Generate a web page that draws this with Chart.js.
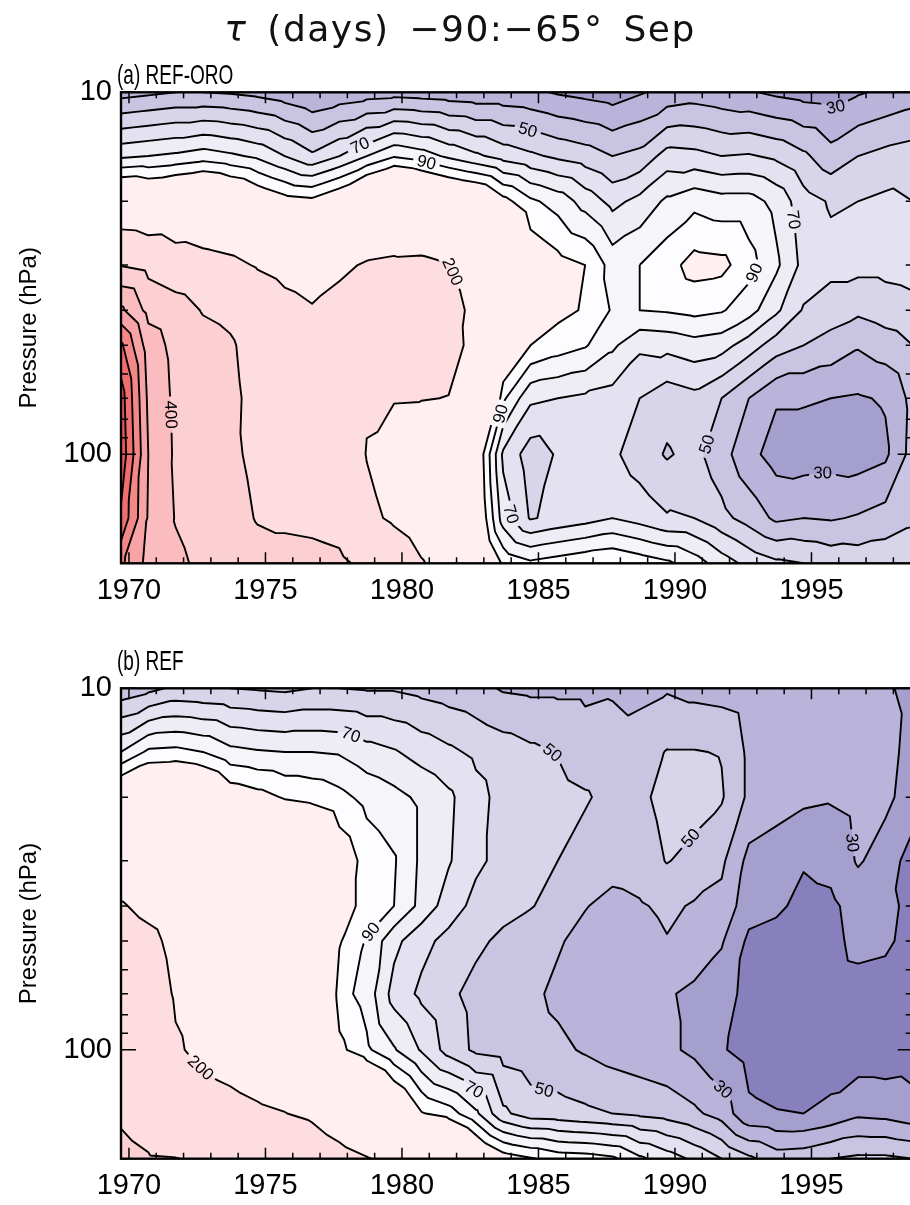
<!DOCTYPE html>
<html>
<head>
<meta charset="utf-8">
<script src="https://cdn.jsdelivr.net/npm/chart.js@4.4.1/dist/chart.umd.min.js"></script>
<style>
  html, body { margin: 0; padding: 0; background: #fff; }
  body { width: 910px; height: 1205px; overflow: hidden; position: relative; }
  canvas { position: absolute; left: 0; }
  #title { position: absolute; top: 11px; left: 0; width: 920px; text-align: center;
           font-family: 'DejaVu Sans', sans-serif; font-size: 36px; line-height: 1;
           letter-spacing: 1.5px; word-spacing: 7px; color: #111; white-space: nowrap; }
  .panel-label { position: absolute; left: 117px; font-family: 'Liberation Sans', sans-serif;
                 font-size: 28px; line-height: 1; color: #000; transform: scaleX(0.68);
                 transform-origin: left top; white-space: nowrap; }
</style>
</head>
<body>
<canvas id="panelA" width="930" height="620" style="top:0"></canvas>
<canvas id="panelB" width="930" height="585" style="top:620px"></canvas>
<div id="title"><i>τ</i> (days) −90:−65° Sep</div>
<div class="panel-label" style="top:61px">(a) REF-ORO</div>
<div class="panel-label" style="top:647px">(b) REF</div>
<script>
// September values, one column per year, plotted at mid-September
const SEP = 8.5 / 12;
const years = [1969, 1970, 1971, 1972, 1973, 1974, 1975, 1976, 1977, 1978,
               1979, 1980, 1981, 1982, 1983, 1984, 1985, 1986, 1987, 1988,
               1989, 1990, 1991, 1992, 1993, 1994, 1995, 1996, 1997, 1998];
const pressureLevels = [10, 15, 20, 30, 40, 50, 70, 100, 150, 200];

// (a) REF-ORO, tau in days, one array per pressure level
const oro10  = [36, 38, 40, 40, 39, 37, 34, 30, 33, 35, 36, 35, 34, 33, 33, 32, 29, 27, 25, 29, 33, 35, 33, 31, 28, 26, 25, 29, 32, 35];
const oro15  = [78, 80, 82, 85, 82, 78, 70, 62, 70, 80, 89, 85, 78, 72, 66, 62, 58, 55, 50, 53, 64, 63, 60, 61, 58, 52, 44, 50, 53, 55];
const oro20  = [125, 120, 125, 130, 122, 112, 105, 103, 112, 128, 140, 132, 125, 120, 104, 92, 86, 76, 67, 73, 82, 87, 84, 84, 77, 64, 59, 60, 62, 60];
const oro30  = [295, 270, 240, 225, 215, 195, 180, 170, 190, 205, 210, 212, 202, 170, 140, 110, 104, 100, 86, 90, 96, 104, 103, 94, 82, 67, 63, 63, 63, 64];
const oro40  = [520, 370, 340, 295, 280, 245, 220, 205, 218, 225, 228, 232, 222, 185, 135, 106, 103, 99, 89, 90, 91, 93, 91, 84, 72, 59, 55, 52, 55, 57];
const oro50  = [720, 450, 370, 330, 310, 265, 245, 235, 235, 230, 225, 224, 216, 187, 118, 100, 95, 91, 82, 72, 73, 76, 74, 65, 55, 50, 46, 41, 45, 50];
const oro70  = [850, 480, 380, 345, 318, 275, 260, 250, 245, 205, 203, 202, 199, 165, 92, 72, 70, 68, 66, 60, 54, 57, 50, 40, 31, 31, 30, 29, 31, 43];
const oro100 = [870, 500, 385, 350, 315, 282, 268, 255, 245, 198, 172, 158, 140, 112, 68, 55, 61, 64, 62, 55, 49, 53, 44, 33, 26, 25, 26, 25, 28, 44];
const oro150 = [780, 490, 395, 360, 330, 295, 285, 280, 270, 215, 190, 165, 142, 115, 75, 59, 63, 66, 70, 66, 61, 60, 53, 46, 38, 40, 39, 41, 44, 48];
const oro200 = [620, 470, 420, 380, 355, 330, 330, 325, 315, 280, 245, 205, 172, 125, 98, 92, 95, 98, 100, 96, 92, 85, 75, 67, 62, 60, 57, 56, 57, 58];

// (b) REF
const ref10  = [43, 47, 52, 51, 50, 49, 48, 50, 50, 49, 49, 47, 45, 43, 39, 38, 38, 38, 39, 37, 39, 37, 36, 34, 34, 34, 33, 33, 31, 28];
const ref15  = [80, 92, 93, 90, 83, 81, 80, 80, 79, 74, 71, 66, 62, 58, 55, 52, 49.5, 45, 44, 46, 50.5, 50.5, 49.5, 38, 36, 35, 35, 34, 33, 27];
const ref20  = [118, 125, 128, 122, 108, 104, 99, 97, 93, 87, 83, 78, 72, 63, 57, 54, 53, 51, 47, 48, 53, 54, 51, 38, 35, 32, 31, 33, 32, 26];
const ref30  = [160, 150, 150, 145, 140, 135, 130, 125, 108, 96, 91, 78, 71, 62, 57, 53, 50, 46, 44, 45, 50.5, 47, 42, 27, 24, 21, 23, 31, 26, 15];
const ref40  = [205, 185, 170, 160, 150, 145, 140, 135, 106, 96, 90, 77, 65, 57, 53, 50.5, 47, 40.5, 37, 39, 42, 39, 37, 24, 22, 17, 18, 24, 23, 17];
const ref50  = [230, 215, 185, 175, 160, 150, 145, 140, 101, 89, 73, 63, 57, 52, 48, 45, 41, 37, 35, 36, 39.5, 36, 31, 18, 16, 15, 17, 23, 22, 16];
const ref70  = [250, 230, 195, 185, 168, 160, 150, 145, 94, 86, 66, 58, 52, 47, 45, 42, 38, 35, 33, 32, 31, 28, 24, 17, 15, 14, 15, 16, 15, 14];
const ref100 = [270, 250, 205, 190, 180, 170, 160, 150, 103, 92, 81, 69, 56, 48, 46, 44, 42, 39, 36, 34, 32, 28, 21, 16, 14, 13, 13, 14, 14, 15];
const ref150 = [290, 270, 235, 222, 215, 207, 201, 190, 165, 140, 120, 101, 95, 82, 62, 55, 54, 52, 50, 48, 46, 42, 36, 22, 20.5, 20, 23, 28, 27, 24];
const ref200 = [320, 305, 302, 290, 298, 280, 260, 240, 220, 203, 185, 160, 140, 120, 106, 101, 96, 95, 92, 82, 75, 68, 60, 52, 45, 46, 50, 52, 52, 50];

const tauOro = [oro10, oro15, oro20, oro30, oro40, oro50, oro70, oro100, oro150, oro200];
const tauRef = [ref10, ref15, ref20, ref30, ref40, ref50, ref70, ref100, ref150, ref200];

const contourLevels = [10, 20, 30, 40, 50, 60, 70, 80, 90, 100, 200, 300, 400, 500, 600, 700, 800, 900, 1000];
const labelledLevels = [30, 50, 70, 90, 200, 400, 600, 800];
// one colour below, between and above the contour levels
const bandColors = ['#6e66b0', '#8780bd', '#a49fcc', '#bab4da', '#c9c4e2', '#d8d4ea', '#e4e1f0', '#eeedf5',
                    '#f6f5fa', '#fdfcfe', '#ffeff0', '#fddde0', '#fccfd2', '#fbbcbf', '#f8a3a6', '#f48889',
                    '#ef6e6e', '#ea5656', '#e24040', '#d83030'];
const yearTicks = [1970, 1975, 1980, 1985, 1990, 1995];
const pressureTicks = [10, 20, 30, 40, 50, 60, 70, 80, 90, 100, 200];
const pressureLabels = [10, 100];

const tickFont = { family: 'Liberation Sans', size: 29 };
const labelFont = '17px "Liberation Sans"';

function bandIndex(v) {
  let k = 0;
  while (k < contourLevels.length && v >= contourLevels[k]) k++;
  return k;
}

function hexToRgb(h) {
  return [parseInt(h.slice(1, 3), 16), parseInt(h.slice(3, 5), 16), parseInt(h.slice(5, 7), 16)];
}

// fill every pixel of the plot with the band of the linearly interpolated value
function paintBands(ctx, area, field, xs, ys) {
  const L = Math.floor(area.left), T = Math.floor(area.top);
  const W = Math.ceil(area.right) - L, H = Math.ceil(area.bottom) - T;
  const off = document.createElement('canvas');
  off.width = W; off.height = H;
  const octx = off.getContext('2d');
  const img = octx.createImageData(W, H);
  const rgb = bandColors.map(hexToRgb);
  const nx = xs.length, ny = ys.length;
  let j = 0;
  for (let py = 0; py < H; py++) {
    const Y = T + py + 0.5;
    while (j < ny - 2 && Y > ys[j + 1]) j++;
    const v = Math.min(1, Math.max(0, (Y - ys[j]) / (ys[j + 1] - ys[j])));
    let i = 0;
    for (let px = 0; px < W; px++) {
      const X = L + px + 0.5;
      while (i < nx - 2 && X > xs[i + 1]) i++;
      const u = Math.min(1, Math.max(0, (X - xs[i]) / (xs[i + 1] - xs[i])));
      const fA = field[j][i], fB = field[j][i + 1], fC = field[j + 1][i], fD = field[j + 1][i + 1];
      const f = (u + v <= 1)
        ? fA + u * (fB - fA) + v * (fC - fA)
        : fD + (1 - u) * (fC - fD) + (1 - v) * (fB - fD);
      const c = rgb[bandIndex(f)];
      const o = (py * W + px) * 4;
      img.data[o] = c[0]; img.data[o + 1] = c[1]; img.data[o + 2] = c[2]; img.data[o + 3] = 255;
    }
  }
  octx.putImageData(img, 0, 0);
  ctx.save();
  ctx.beginPath();
  ctx.rect(area.left, area.top, area.right - area.left, area.bottom - area.top);
  ctx.clip();
  ctx.drawImage(off, L, T);
  ctx.restore();
}

// marching triangles, same split as the fill, chained into polylines
function traceLevel(field, xs, ys, lev) {
  const nx = xs.length, ny = ys.length;
  const pts = new Map();
  const segs = [];
  const node = (j, i) => ({ id: j * nx + i, x: xs[i], y: ys[j], f: field[j][i] });
  const tri = (a, b, c) => {
    const P = [a, b, c];
    const keys = [];
    for (let e = 0; e < 3; e++) {
      const p = P[e], q = P[(e + 1) % 3];
      if ((p.f >= lev) !== (q.f >= lev)) {
        const t = (lev - p.f) / (q.f - p.f);
        const key = Math.min(p.id, q.id) + '_' + Math.max(p.id, q.id);
        if (!pts.has(key)) pts.set(key, { x: p.x + t * (q.x - p.x), y: p.y + t * (q.y - p.y) });
        keys.push(key);
      }
    }
    if (keys.length === 2) segs.push(keys);
  };
  for (let j = 0; j < ny - 1; j++) {
    for (let i = 0; i < nx - 1; i++) {
      const A = node(j, i), B = node(j, i + 1), C = node(j + 1, i), D = node(j + 1, i + 1);
      tri(A, B, C);
      tri(D, C, B);
    }
  }
  const adj = new Map();
  segs.forEach((s, k) => s.forEach(key => {
    if (!adj.has(key)) adj.set(key, []);
    adj.get(key).push(k);
  }));
  const used = new Array(segs.length).fill(false);
  const build = (startKey) => {
    const keys = [startKey];
    let cur = startKey;
    for (;;) {
      const next = (adj.get(cur) || []).find(k => !used[k]);
      if (next === undefined) break;
      used[next] = true;
      const s = segs[next];
      cur = s[0] === cur ? s[1] : s[0];
      keys.push(cur);
    }
    return keys.map(k => pts.get(k));
  };
  const polys = [];
  for (const [key, list] of adj) if (list.length === 1 && !used[list[0]]) polys.push(build(key));
  segs.forEach((s, k) => { if (!used[k]) polys.push(build(s[0])); });
  return polys.filter(p => p.length > 1);
}

function pointAt(poly, cum, s) {
  s = Math.max(0, Math.min(cum[cum.length - 1], s));
  let k = 1;
  while (k < cum.length - 1 && cum[k] < s) k++;
  const seg = (cum[k] - cum[k - 1]) || 1;
  const t = (s - cum[k - 1]) / seg;
  return { x: poly[k - 1].x + t * (poly[k].x - poly[k - 1].x), y: poly[k - 1].y + t * (poly[k].y - poly[k - 1].y) };
}

function placeLabels(poly, text, area, placed, ctx) {
  const cum = [0];
  for (let k = 1; k < poly.length; k++) {
    cum.push(cum[k - 1] + Math.hypot(poly[k].x - poly[k - 1].x, poly[k].y - poly[k - 1].y));
  }
  const total = cum[cum.length - 1];
  if (total < 110) return;
  const n = Math.max(1, Math.floor(total / 420));
  const w = ctx.measureText(text).width;
  for (let m = 0; m < n; m++) {
    for (const frac of [0.5, 0.4, 0.6, 0.3, 0.7, 0.2, 0.8]) {
      const s = total * (m + frac) / n;
      const pt = pointAt(poly, cum, s);
      if (pt.x < area.left + 20 || pt.x > Math.min(area.right, 910) - 22 ||
          pt.y < area.top + 14 || pt.y > area.bottom - 14) continue;
      if (placed.some(p => Math.hypot(p.x - pt.x, p.y - pt.y) < 60)) continue;
      const p1 = pointAt(poly, cum, s - 10), p2 = pointAt(poly, cum, s + 10);
      let a = Math.atan2(p2.y - p1.y, p2.x - p1.x);
      if (a > Math.PI / 2) a -= Math.PI;
      if (a < -Math.PI / 2) a += Math.PI;
      placed.push({ x: pt.x, y: pt.y, a, w, text });
      break;
    }
  }
}

function addBox(ctx, lb) {
  const hw = lb.w / 2 + 4, hh = 8;
  const c = Math.cos(lb.a), s = Math.sin(lb.a);
  const corners = [[-hw, -hh], [-hw, hh], [hw, hh], [hw, -hh]];
  corners.forEach(([dx, dy], k) => {
    const px = lb.x + dx * c - dy * s, py = lb.y + dx * s + dy * c;
    if (k === 0) ctx.moveTo(px, py); else ctx.lineTo(px, py);
  });
  ctx.closePath();
}

function makeContourPlugin(field) {
  return {
    id: 'contourField',
    beforeDatasetsDraw(chart) {
      const { ctx, chartArea: area, scales: { x, y } } = chart;
      const xs = years.map(yr => x.getPixelForValue(yr + SEP));
      const ys = pressureLevels.map(p => y.getPixelForValue(p));
      paintBands(ctx, area, field, xs, ys);

      const lines = contourLevels.map(lev => ({ lev, polys: traceLevel(field, xs, ys, lev) }));
      ctx.save();
      ctx.font = labelFont;
      const labels = [];
      for (const { lev, polys } of lines) {
        if (!labelledLevels.includes(lev)) continue;
        for (const poly of polys) placeLabels(poly, String(lev), area, labels, ctx);
      }
      ctx.beginPath();
      ctx.rect(area.left, area.top, area.right - area.left, area.bottom - area.top);
      labels.forEach(lb => addBox(ctx, lb));
      ctx.clip('evenodd');
      ctx.strokeStyle = '#000';
      ctx.lineWidth = 1.9;
      ctx.lineJoin = 'round';
      for (const { polys } of lines) {
        for (const poly of polys) {
          ctx.beginPath();
          poly.forEach((p, k) => k ? ctx.lineTo(p.x, p.y) : ctx.moveTo(p.x, p.y));
          ctx.stroke();
        }
      }
      ctx.restore();

      ctx.save();
      ctx.fillStyle = '#000';
      ctx.font = labelFont;
      ctx.textAlign = 'center';
      ctx.textBaseline = 'middle';
      for (const lb of labels) {
        ctx.save();
        ctx.translate(lb.x, lb.y);
        ctx.rotate(lb.a);
        ctx.fillText(lb.text, 0, 1);
        ctx.restore();
      }
      ctx.restore();
    }
  };
}

// frame with inward ticks on all four sides
const framePlugin = {
  id: 'frameTicks',
  afterDraw(chart) {
    const { ctx, chartArea: a, scales: { x, y } } = chart;
    ctx.save();
    ctx.strokeStyle = '#000';
    ctx.lineWidth = 1.5;
    ctx.beginPath();
    for (let yr = Math.ceil(x.min); yr <= x.max; yr++) {
      const px = x.getPixelForValue(yr);
      const len = yr % 5 === 0 ? 11 : 6;
      ctx.moveTo(px, a.bottom); ctx.lineTo(px, a.bottom - len);
      ctx.moveTo(px, a.top); ctx.lineTo(px, a.top + len);
    }
    for (const p of pressureTicks) {
      const py = y.getPixelForValue(p);
      const len = pressureLabels.includes(p) ? 15 : 7;
      ctx.moveTo(a.left, py); ctx.lineTo(a.left + len, py);
      ctx.moveTo(a.right, py); ctx.lineTo(a.right - len, py);
    }
    ctx.stroke();
    ctx.lineWidth = 2.4;
    ctx.strokeRect(a.left, a.top, a.right - a.left, a.bottom - a.top);
    ctx.restore();
  }
};

function makeChart(canvasId, field, padTop, xAxisHeight) {
  return new Chart(document.getElementById(canvasId), {
    type: 'scatter',
    data: { datasets: [] },
    options: {
      responsive: false,
      animation: false,
      devicePixelRatio: 1,
      layout: { padding: { top: padTop, right: 17.3, left: 0, bottom: 0 } },
      plugins: { legend: { display: false }, tooltip: { enabled: false } },
      scales: {
        x: {
          type: 'linear',
          min: years[0] + SEP,
          max: years[years.length - 1] + SEP,
          grid: { display: false, drawTicks: false },
          border: { display: false },
          afterBuildTicks: (s) => { s.ticks = yearTicks.map(v => ({ value: v })); },
          afterFit: (s) => { s.height = xAxisHeight; },
          ticks: { autoSkip: false, maxRotation: 0, padding: 10, color: '#000', font: tickFont,
                   callback: (v) => String(v) }
        },
        y: {
          type: 'logarithmic',
          reverse: true,
          min: 10,
          max: 200,
          grid: { display: false, drawTicks: false },
          border: { display: false },
          afterBuildTicks: (s) => { s.ticks = pressureTicks.map(v => ({ value: v })); },
          afterFit: (s) => { s.width = 121; },
          ticks: { autoSkip: false, padding: 9, color: '#000', font: tickFont,
                   callback: (v) => pressureLabels.includes(v) ? String(v) : '' },
          title: { display: true, text: 'Pressure (hPa)', color: '#000',
                   font: { family: 'Liberation Sans', size: 24 }, padding: { top: 15, bottom: 0 } }
        }
      }
    },
    plugins: [makeContourPlugin(field), framePlugin]
  });
}

makeChart('panelA', tauOro, 92.3, 56.7);
makeChart('panelB', tauRef, 68.3, 46.3);
</script>
</body>
</html>
